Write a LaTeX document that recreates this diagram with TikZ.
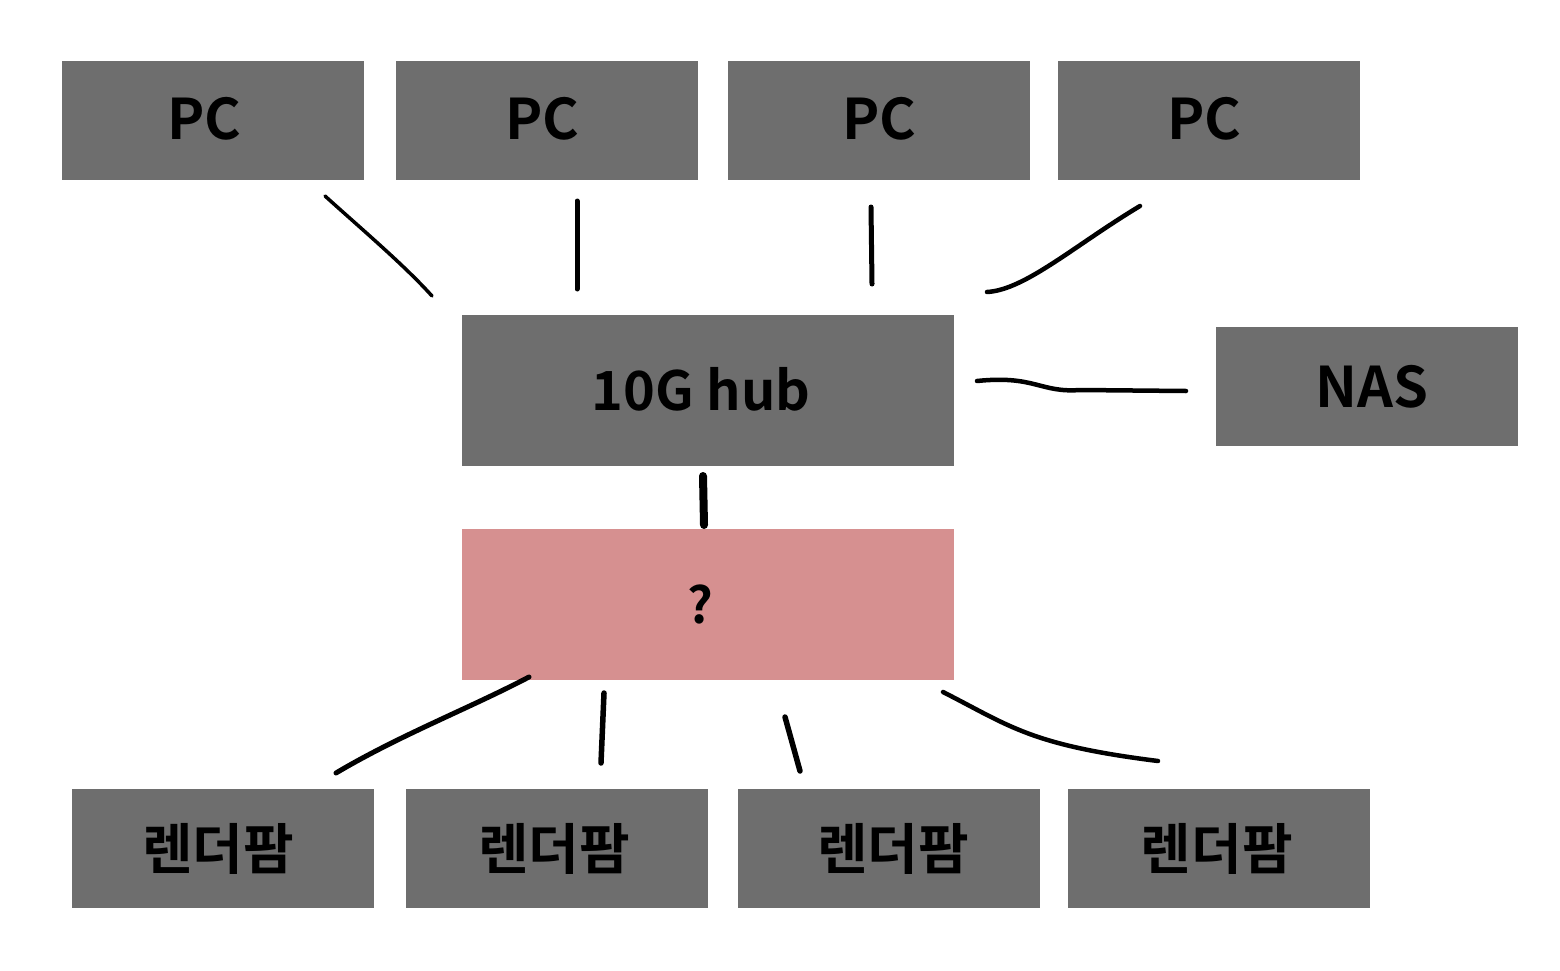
\documentclass[tikz,border=0pt]{standalone}
\usepackage{fontspec}
\setmainfont{Noto Sans CJK KR Bold}
\begin{document}
\begin{tikzpicture}[x=1pt,y=-1pt,
  box/.style={fill=boxgray,draw=none,anchor=north west,minimum width=302pt,minimum height=119pt,inner sep=0pt,font=\fontsize{56}{60}\selectfont},
  kbox/.style={box,font=\fontsize{55}{58}\selectfont},
  big/.style={box,minimum width=492pt,minimum height=151pt},
  wire/.style={line width=4pt,line cap=round,line join=round},
  thick wire/.style={wire,line width=5pt}]
\definecolor{boxgray}{RGB}{110,110,110}
\definecolor{qpink}{RGB}{214,144,144}
\newcommand{\shl}[2]{\raisebox{#2}{#1}}
\useasboundingbox (0,0) rectangle (1560,971);
% top PCs
\node[box] (pc1) at (62,61) {\shl{PC}{4pt}\kern18pt};
\node[box] (pc2) at (396,61) {\shl{PC}{4pt}\kern10pt};
\node[box] (pc3) at (728,61) {\shl{PC}{4pt}};
\node[box] (pc4) at (1058,61) {\shl{PC}{4pt}\kern10pt};
% hub, NAS, ?
\node[big] (hub) at (462,315) {\fontsize{54}{58}\selectfont\shl{10G hub}{3pt}\kern14pt};
\node[box] (nas) at (1216,327) {\kern10pt NAS};
\node[big,fill=qpink] (q) at (462,529) {\fontsize{50}{54}\selectfont ?\kern16pt};
% render farms
\node[kbox] (r1) at (72,789) {렌더팜\kern10pt};
\node[kbox] (r2) at (406,789) {렌더팜\kern6pt};
\node[kbox] (r3) at (738,789) {\kern8pt 렌더팜};
\node[kbox] (r4) at (1068,789) {렌더팜\kern5pt};
% connector end points
\coordinate (a1) at (325,196); \coordinate (b1) at (432,296);
\coordinate (a2) at (577,201); \coordinate (b2) at (577,289);
\coordinate (a3) at (871,207); \coordinate (b3) at (872,284);
\coordinate (a4) at (1140,206); \coordinate (b4) at (987,292);
\coordinate (an) at (977,381); \coordinate (bn) at (1186,391);
\coordinate (aq) at (703,476); \coordinate (bq) at (704,525);
\coordinate (c1) at (529,677); \coordinate (d1) at (336,773);
\coordinate (c2) at (604,693); \coordinate (d2) at (601,763);
\coordinate (c3) at (785,717); \coordinate (d3) at (800,771);
\coordinate (c4) at (943,692); \coordinate (d4) at (1158,761);
% connectors
\draw[wire,line width=3.5pt] (a1) .. controls (365,232) and (405,266) .. (b1);
\draw[thick wire] (a2) -- (b2);
\draw[thick wire] (a3) -- (b3);
\draw[wire,line width=4.5pt] (a4) .. controls (1075,245) and (1025,290) .. (b4);
\draw[wire,line width=4.5pt] (an) .. controls (1035,375) and (1040,393) .. (1080,390) -- (bn);
\draw[line width=8pt,line cap=round] (aq) -- (bq);
\draw[wire,line width=5pt] (c1) .. controls (470,708) and (400,735) .. (d1);
\draw[thick wire,line width=5.5pt] (c2) -- (d2);
\draw[thick wire,line width=5.5pt] (c3) -- (d3);
\draw[wire,line width=4.5pt] (c4) .. controls (1010,726) and (1030,745) .. (d4);
\end{tikzpicture}
\end{document}
